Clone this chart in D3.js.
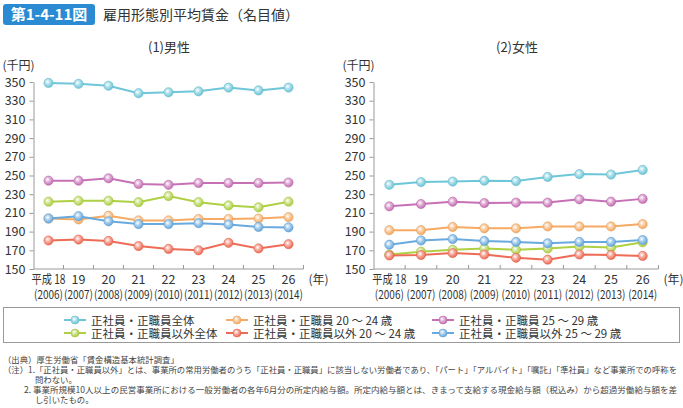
<!DOCTYPE html>
<html><head><meta charset="utf-8">
<script src="https://cdn.jsdelivr.net/npm/d3@7"></script>
<style>body{margin:0;background:#fff}svg{display:block}text{font-family:"Noto Sans CJK JP","Noto Sans",sans-serif}</style>
</head><body><svg id="c" width="683" height="408"></svg>
<script>
const years = ["18","19","20","21","22","23","24","25","26"];
const westernYears = ["(2006)","(2007)","(2008)","(2009)","(2010)","(2011)","(2012)","(2013)","(2014)"];
const yTicks = [150,170,190,210,230,250,270,290,310,330,350];
const seriesNames = ["正社員・正職員全体","正社員・正職員 20 ～ 24 歳","正社員・正職員 25 ～ 29 歳","正社員・正職員以外全体","正社員・正職員以外 20 ～ 24 歳","正社員・正職員以外 25 ～ 29 歳"];
const seriesColors = ["#6ec6d9","#f6aa62","#c670b5","#aed042","#ee6b55","#68a9de"];

const maleAll     = [349, 348, 346, 338, 339, 340, 344, 341, 344];
const male2024    = [204, 203, 207, 202, 202, 203.5, 203.5, 204, 205.5];
const male2529    = [244.5, 244.5, 247, 241, 240, 242, 242, 242, 242.5];
const maleNonAll  = [222, 223, 223, 221.5, 228, 221.5, 218, 216, 222];
const maleNon2024 = [180.5, 181.5, 180, 174.5, 171.5, 170, 178, 172, 176.5];
const maleNon2529 = [204, 206.5, 201, 198, 198, 199, 197.5, 195, 194.5];

const femAll     = [240, 243, 243.5, 244.5, 244, 248.5, 251.5, 251, 256];
const fem2024    = [191.5, 191.5, 195, 193.5, 193.5, 195.5, 195.5, 195.5, 198];
const fem2529    = [217, 219.5, 222, 220.5, 221, 221, 224.5, 222, 225];
const femNonAll  = [165.5, 168.5, 170.5, 172, 170.5, 172, 174, 173, 178.5];
const femNon2024 = [164.5, 165, 167, 165.5, 162, 160, 165.5, 165, 164];
const femNon2529 = [176, 180.5, 182, 180, 179, 177.5, 179, 179, 181];

const maleSeries = [maleAll, male2024, male2529, maleNonAll, maleNon2024, maleNon2529];
const femSeries = [femAll, fem2024, fem2529, femNonAll, femNon2024, femNon2529];

const svg = d3.select("#c");
const defs = svg.append("defs");
seriesColors.forEach((c,i)=>{
  const g = defs.append("radialGradient").attr("id","g"+i).attr("cx","40%").attr("cy","38%").attr("r","60%");
  g.append("stop").attr("offset","0%").attr("stop-color","#ffffff");
  g.append("stop").attr("offset","45%").attr("stop-color",d3.interpolateRgb("#ffffff",c)(0.55));
  g.append("stop").attr("offset","100%").attr("stop-color",c);
});

// Header
svg.append("rect").attr("x",3).attr("y",4).attr("width",92).attr("height",21).attr("rx",3).attr("fill","#2a8bd2");
svg.append("text").attr("x",49).attr("y",20).attr("text-anchor","middle").attr("fill","#fff").attr("font-size",15).attr("font-weight","bold").text("第1-4-11図");
svg.append("text").attr("x",103).attr("y",20).attr("fill","#333").attr("font-size",14).text("雇用形態別平均賃金（名目値）");

function panel(x0, x1, title, titleX, seriesList){
  const y = d3.scaleLinear().domain([150,350]).range([269,82]);
  const x = d3.scaleBand().domain(years).range([x0,x1]);
  const g = svg.append("g");
  g.append("text").attr("x",titleX).attr("y",52).attr("text-anchor","middle").attr("font-size",13).attr("fill","#333").text(title);
  g.append("text").attr("x",x0-31).attr("y",70).attr("font-size",12).attr("fill","#333").text("(千円)");
  const ya = g.append("g").attr("transform",`translate(${x0},0)`).call(d3.axisLeft(y).tickValues(yTicks).tickSize(4).tickPadding(4).tickSizeOuter(0));
  ya.select(".domain").attr("stroke","#999");
  ya.selectAll(".tick line").attr("stroke","#999");
  ya.selectAll(".tick text").attr("font-size",12.5).attr("fill","#333").attr("font-family",'"Noto Sans CJK JP",sans-serif');
  // x axis
  const bounds = years.map(d=>x(d)).concat([x1]);
  g.append("line").attr("x1",x0).attr("x2",x1).attr("y1",269).attr("y2",269).attr("stroke","#999");
  g.selectAll(".xt").data(bounds.slice(1)).enter().append("line")
    .attr("x1",d=>d).attr("x2",d=>d).attr("y1",269).attr("y2",265).attr("stroke","#999");
  years.forEach((d,i)=>{
    const cx = x(d)+x.bandwidth()/2;
    const t = g.append("text").attr("x",cx).attr("y",284).attr("text-anchor","middle").attr("font-size",12.5).attr("fill","#333").text(i===0 ? "平成 "+d : d);
    if(i===0) t.attr("textLength",34).attr("lengthAdjust","spacingAndGlyphs");
    g.append("text").attr("x",cx).attr("y",299).attr("text-anchor","middle").attr("font-size",12).attr("fill","#333").attr("textLength",29).attr("lengthAdjust","spacingAndGlyphs").text(westernYears[i]);
  });
  g.append("text").attr("x",x1+5).attr("y",284).attr("font-size",12).attr("fill","#333").text("(年)");
  const line = d3.line().x((d,i)=>x(years[i])+x.bandwidth()/2).y(d=>y(d));
  seriesList.forEach((s,k)=>{
    g.append("path").attr("d",line(s)).attr("fill","none").attr("stroke",seriesColors[k]).attr("stroke-width",2);
    g.selectAll(".p"+k).data(s).enter().append("circle")
      .attr("cx",(d,i)=>x(years[i])+x.bandwidth()/2).attr("cy",d=>y(d)).attr("r",4.6)
      .attr("fill",`url(#g${k})`).attr("stroke",d3.color(seriesColors[k]).darker(0.2)).attr("stroke-width",0.6);
  });
}
panel(33.5, 303.5, "(1)男性", 169, maleSeries);
panel(373.5, 658.5, "(2)女性", 517, femSeries);

// Legend
svg.append("rect").attr("x",3.5).attr("y",307.5).attr("width",676).attr("height",35).attr("fill","none").attr("stroke","#999");
const legX = [64, 226, 432];
const legY = [320, 333];
seriesNames.forEach((n,i)=>{
  const col = i%3, row = Math.floor(i/3);
  const lx = legX[col], ly = legY[row];
  svg.append("line").attr("x1",lx).attr("x2",lx+22).attr("y1",ly).attr("y2",ly).attr("stroke",seriesColors[i]).attr("stroke-width",2);
  svg.append("circle").attr("cx",lx+11).attr("cy",ly).attr("r",4).attr("fill",`url(#g${i})`).attr("stroke",d3.color(seriesColors[i]).darker(0.2)).attr("stroke-width",0.6);
  svg.append("text").attr("x",lx+27).attr("y",ly+4.5).attr("font-size",11.5).attr("fill","#333").text(n);
});

// Notes
const notes = [
  {x:3, y:363, t:"（出典）厚生労働省「賃金構造基本統計調査」", len:null},
  {x:3, y:373, t:"（注）1.「正社員・正職員以外」とは、事業所の常用労働者のうち「正社員・正職員」に該当しない労働者であり、「パート」「アルバイト」「嘱託」「準社員」など事業所での呼称を", len:674},
  {x:35, y:383, t:"問わない。", len:null},
  {x:24, y:393, t:"2. 事業所規模10人以上の民営事業所における一般労働者の各年6月分の所定内給与額。所定内給与額とは、きまって支給する現金給与額（税込み）から超過労働給与額を差", len:653},
  {x:35, y:403, t:"し引いたもの。", len:null}
];
notes.forEach(n=>{
  const t = svg.append("text").attr("x",n.x).attr("y",n.y).attr("font-size",8.4).attr("fill","#444").text(n.t);
  if(n.len) t.attr("textLength",n.len).attr("lengthAdjust","spacingAndGlyphs");
});
</script></body></html>
